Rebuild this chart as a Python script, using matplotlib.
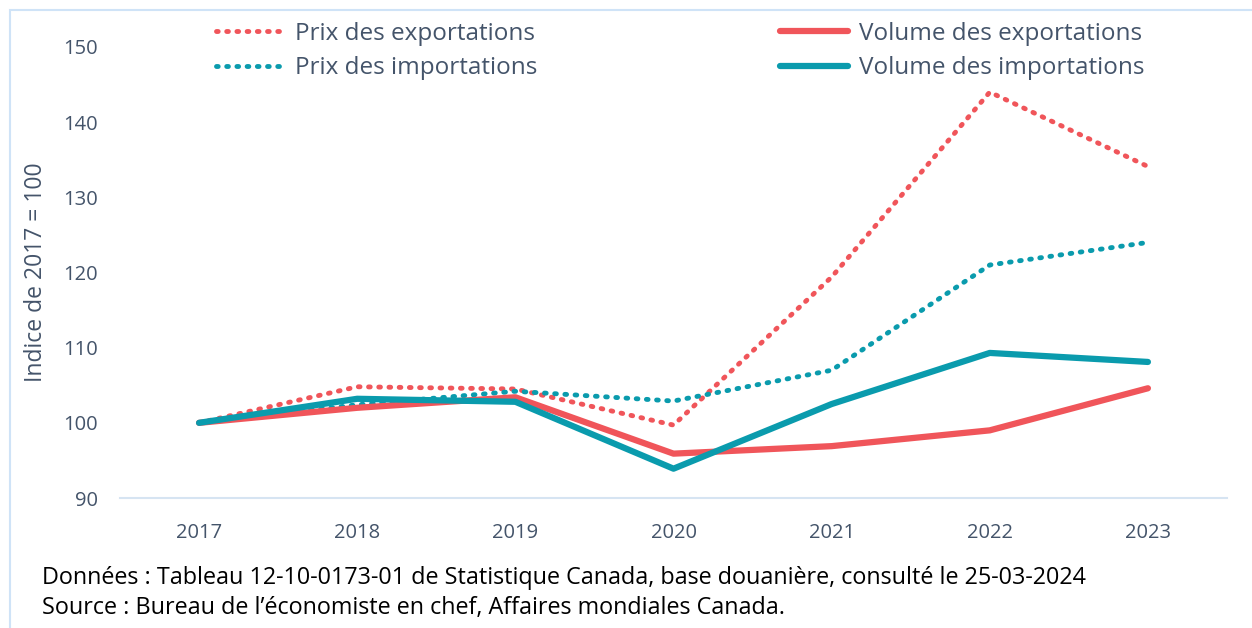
import matplotlib.pyplot as plt
from matplotlib.patches import Rectangle

years = ["2017", "2018", "2019", "2020", "2021", "2022", "2023"]
prix_export = [100, 104.8, 104.5, 99.7, 119.4, 144.0, 134.1]
prix_import = [100, 102.4, 104.2, 102.9, 107.0, 121.0, 124.0]
volume_export = [100, 102.0, 103.4, 95.9, 96.9, 99.0, 104.6]
volume_import = [100, 103.2, 102.8, 93.9, 102.5, 109.3, 108.1]

red = "#F0555A"
teal = "#0A9BAD"
txt = "#44546A"
sans = ["Open Sans", "DejaVu Sans"]

fig = plt.figure(figsize=(12.52, 6.28), dpi=100)
ax = fig.add_axes([120 / 1252, 1 - 498 / 628, (1227 - 120) / 1252, (498 - 47) / 628])

x = range(len(years))
ax.plot(x, prix_export, color=red, lw=3.5, ls=(0, (0.35, 1.75)), dash_capstyle="round",
        label="Prix des exportations")
ax.plot(x, prix_import, color=teal, lw=3.5, ls=(0, (0.35, 1.75)), dash_capstyle="round",
        label="Prix des importations")
ax.plot(x, volume_export, color=red, lw=4.5, solid_capstyle="round",
        label="Volume des exportations")
ax.plot(x, volume_import, color=teal, lw=4.5, solid_capstyle="round",
        label="Volume des importations")

ax.set_xlim(-0.5, len(years) - 0.5)
ax.set_ylim(90, 150)
ax.set_yticks(range(90, 151, 10))
ax.set_xticks(list(x))
ax.set_xticklabels(years)
for s in ["top", "right", "left"]:
    ax.spines[s].set_visible(False)
ax.spines["bottom"].set_color("#D6E4F2")
ax.spines["bottom"].set_linewidth(1.5)
ax.tick_params(length=0, labelsize=14.5, labelcolor=txt)
ax.tick_params(axis="x", pad=18)
ax.tick_params(axis="y", pad=16)
for lab in ax.get_xticklabels() + ax.get_yticklabels():
    lab.set_family(sans)
ax.set_ylabel("Indice de 2017 = 100", fontsize=16.5, color=txt, family=sans)
ax.yaxis.set_label_coords(-(120 - 48) / 1107, 0.5)

leg = fig.legend(ncol=2, loc="center", bbox_to_anchor=(680 / 1252, 1 - 51 / 628),
                 frameon=False, handlelength=2.8, handletextpad=0.45, columnspacing=10,
                 labelspacing=0.42, prop={"family": sans, "size": 17.5})
for t in leg.get_texts():
    t.set_color(txt)

fig.text(42 / 1252, 1 - 578 / 628, "Données : Tableau 12-10-0173-01 de Statistique Canada, base douanière, consulté le 25-03-2024",
         fontsize=16.8, family=sans, va="center", ha="left", color="black")
fig.text(42 / 1252, 1 - 608 / 628, "Source : Bureau de l’économiste en chef, Affaires mondiales Canada.",
         fontsize=16.8, family=sans, va="center", ha="left", color="black")

fig.patches.append(Rectangle((10 / 1252, -0.1), 1.2, 1 - 10 / 628 + 0.1,
                             transform=fig.transFigure, fill=False,
                             edgecolor="#CFE3F7", lw=1.5))

fig.savefig("out.png", dpi=100)
